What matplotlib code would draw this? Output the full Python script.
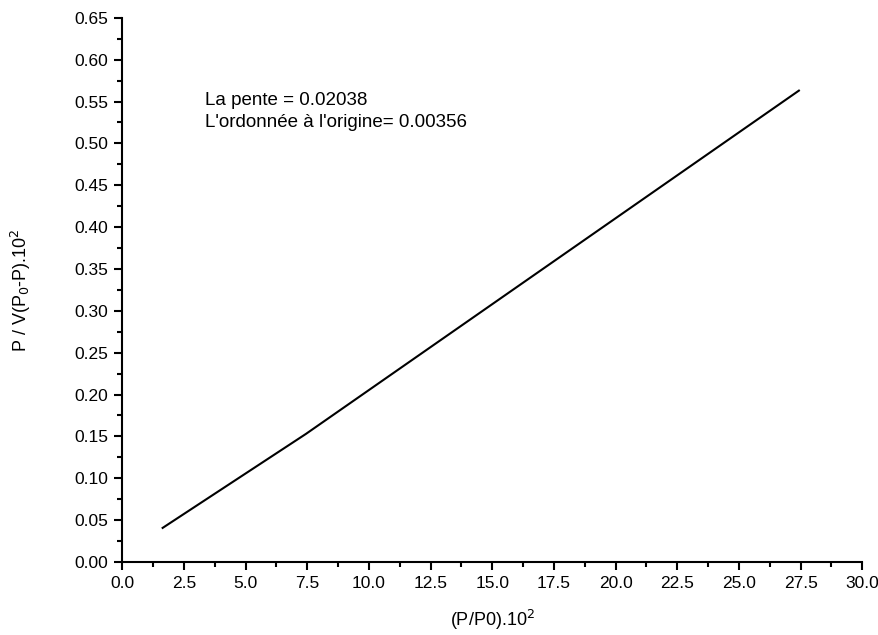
import numpy as np
import matplotlib.pyplot as plt
from matplotlib.ticker import MultipleLocator, FormatStrFormatter

plt.rcParams['font.family'] = ['Liberation Sans', 'DejaVu Sans']

# Data
xValues = [1.64, 7.45, 27.43]
yValues = [0.0407, 0.153, 0.563]

slopeText = 'La pente = 0.02038'
interceptText = "L'ordonnée à l'origine= 0.00356"

fig = plt.figure(figsize=(8.79, 6.35), dpi=100)
ax = fig.add_axes([0.139, 0.115, 0.842, 0.857])

ax.plot(xValues, yValues, color='black', linewidth=1.5)

ax.set_xlim(0, 30)
ax.set_ylim(0, 0.65)
ax.xaxis.set_major_locator(MultipleLocator(2.5))
ax.xaxis.set_minor_locator(MultipleLocator(1.25))
ax.yaxis.set_major_locator(MultipleLocator(0.05))
ax.yaxis.set_minor_locator(MultipleLocator(0.025))
ax.xaxis.set_major_formatter(FormatStrFormatter('%.1f'))
ax.yaxis.set_major_formatter(FormatStrFormatter('%.2f'))

for side in ['top', 'right']:
    ax.spines[side].set_visible(False)
for side in ['left', 'bottom']:
    ax.spines[side].set_linewidth(1.5)

ax.tick_params(which='major', direction='out', length=6, width=1.5,
               labelsize=12.5, pad=4)
ax.tick_params(which='minor', direction='out', length=3.5, width=1.5)

ax.set_xlabel('(P/P0).10$^{2}$', fontsize=13, labelpad=12)
ax.set_ylabel('P / V(P$_{0}$-P).10$^{2}$', fontsize=13, labelpad=30)

ax.text(3.35, 0.561, slopeText + '\n' + interceptText, fontsize=13.5,
        va='top', ha='left', linespacing=1.35)

fig.savefig('out.png', dpi=100)
